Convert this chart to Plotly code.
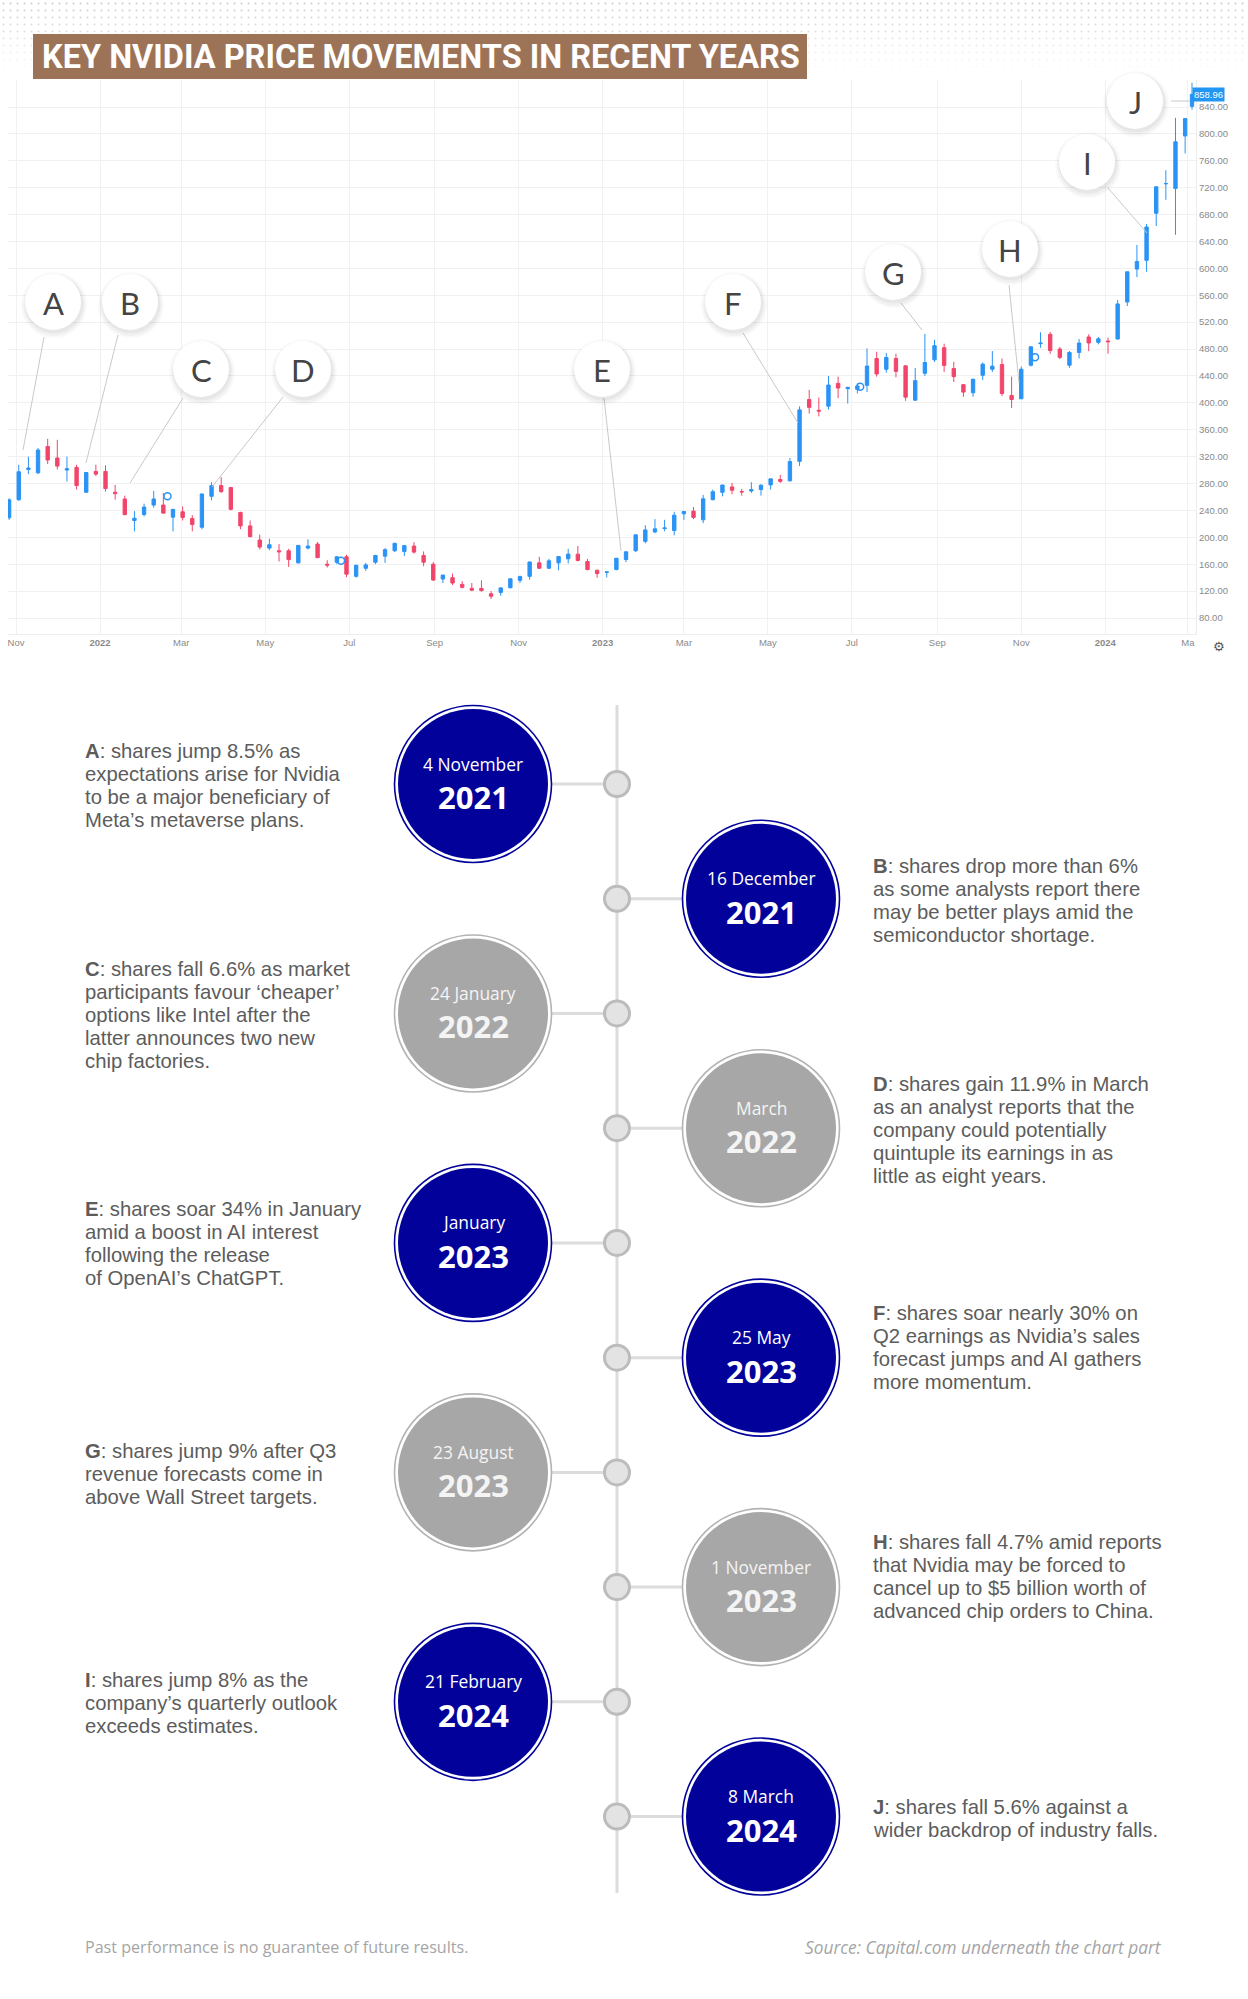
import base64
import pandas as pd
import plotly.graph_objects as go

W, H = 1248, 1999

# ---------------- data: weekly NVDA candles ----------------
open_2021 = [229, 256, 301, 296, 335, 318, 300, 304, 267, 298]
high_2021 = [258, 308, 320, 333, 346.5, 345, 320, 308, 297, 308]
low_2021 = [226, 254, 294, 294, 309, 301, 283, 271, 267, 291]
close_2021 = [255.7, 297.5, 303, 329.85, 315, 306, 302, 277, 296.4, 294]

open_2022 = [298, 267, 257, 225, 234, 248, 248, 230, 238, 228, 215, 261, 277, 274, 237, 217, 196,
             184, 180, 180, 162, 184, 190, 160, 163, 171, 142, 154, 163, 172, 180, 179, 187, 173,
             160, 138, 140, 130, 124, 124, 116, 118, 125, 136, 142, 162, 154, 162, 168, 175, 164, 151]
high_2022 = [307, 278, 262, 239, 250, 269, 266, 242, 246, 233, 265, 282, 289.5, 275, 238, 225, 204,
             198, 190, 183, 188, 197, 193, 166, 172, 174, 159, 162, 174, 184, 192, 188, 192.7, 179,
             163, 144, 146, 135, 132, 136, 120, 126, 139, 143, 164, 171, 168, 172, 183, 187, 168, 152]
low_2022 = [268, 256, 233, 208.9, 231, 244, 235, 208.9, 225, 208.9, 212, 255, 266, 240, 212, 200, 182,
            181, 164, 156, 161, 182, 169, 155, 160, 140.6, 140, 150, 160, 162, 178, 172, 176, 157,
            135, 132, 129, 124, 120, 119, 108.1, 113, 124, 132, 137, 153, 153, 151, 161, 164, 151, 140]
close_2022 = [272.5, 265, 233.7, 228.4, 245, 257, 236, 241.6, 229.5, 219, 264.5, 276.9, 268, 241.6,
              217, 201, 185.5, 189, 178.5, 166.9, 188, 187, 169.8, 158.6, 171, 145.2, 158.4, 159, 173,
              181.6, 191, 187.7, 178, 163, 136.5, 143.9, 132, 125.6, 121.4, 120.8, 112.3, 124.7,
              138.3, 141.6, 163.3, 154, 165, 171.4, 175, 165.7, 152, 146.1]

open_2023 = [148, 152, 167, 180, 194, 208, 213, 210, 235, 239, 226, 256, 267, 275, 268, 269, 271,
             278, 286, 284, 313, 405, 389, 395, 429, 421, 420, 426, 466, 450, 466, 455, 404, 444,
             464, 482, 451, 427, 415, 441, 450, 457, 411, 406, 456, 488, 502, 480, 456, 475, 498, 490]
high_2023 = [149, 169, 179, 204, 218, 227, 226, 238, 239, 245, 263, 271, 278, 281, 272, 282, 279,
             287, 293, 318, 394.8, 419.4, 408, 439.9, 439, 424, 429, 480.9, 476, 474, 473, 456, 452,
             502.7, 494, 488, 461, 428, 436, 460, 477, 466, 439, 454, 484, 505, 505.5, 483, 477, 495,
             502, 498]
low_2023 = [140.3, 151, 163, 178, 191, 206, 209, 203, 226, 227, 221, 255, 261, 264, 262, 266, 262,
            271, 281, 283, 306, 384, 380, 390, 407, 399, 414, 416, 439, 445, 438, 403, 403, 440, 461,
            446, 431, 409, 409, 434, 446, 410, 392.3, 406, 454, 482, 473, 465, 452, 466, 477, 487]
close_2023 = [148.6, 168.9, 178.4, 203.65, 211, 212.6, 213.9, 232.9, 238.5, 229.6, 257.25, 267.8,
              277.8, 270, 267.5, 271, 277.5, 287, 283.4, 312.6, 389.5, 393.3, 387.7, 426.5, 422, 423,
              425, 454.7, 443, 467.5, 446.8, 408.5, 433, 460, 485, 455.7, 439, 416, 435, 457.6, 454.6,
              413.9, 405, 450, 483.35, 488.9, 477.8, 467.7, 475, 488.9, 489, 495.2]

open_2024 = [492, 495, 550, 599, 612, 682, 726, 719, 797, 841]
high_2024 = [497, 553, 595, 634.9, 666, 721.9, 746, 823.9, 823, 876]
low_2024 = [473, 494, 544, 587, 595, 663, 702, 650, 771, 836]
close_2024 = [490.97, 547.1, 594.9, 610.3, 661.6, 721.3, 726.1, 788.2, 822.8, 858.96]

opens = open_2021 + open_2022 + open_2023 + open_2024
highs = high_2021 + high_2022 + high_2023 + high_2024
lows = low_2021 + low_2022 + low_2023 + low_2024
closes = close_2021 + close_2022 + close_2023 + close_2024
week_dates = list(pd.date_range("2021-10-27", "2024-02-28", freq="7D")) + [pd.Timestamp("2024-03-04")]

last_price = 858.96

# small event icons on the price line
icon_dates = ["2022-02-19", "2022-06-25", "2023-07-07", "2023-11-11"]
icon_prices = [261, 165, 424, 468]

tick_dates = ["2021-11-01", "2022-01-01", "2022-03-01", "2022-05-01", "2022-07-01", "2022-09-01",
              "2022-11-01", "2023-01-01", "2023-03-01", "2023-05-01", "2023-07-01", "2023-09-01",
              "2023-11-01", "2024-01-01", "2024-03-01"]
tick_text = ["Nov", "<b>2022</b>", "Mar", "May", "Jul", "Sep", "Nov", "<b>2023</b>", "Mar", "May",
             "Jul", "Sep", "Nov", "<b>2024</b>", "Ma"]
price_ticks = [80, 120, 160, 200, 240, 280, 320, 360, 400, 440, 480, 520, 560, 600, 640, 680, 720,
               760, 800, 840]

letters = ["A", "B", "C", "D", "E", "F", "G", "H", "I", "J"]
event_day = ["4 November", "16 December", "24 January", "March", "January", "25 May", "23 August",
             "1 November", "21 February", "8 March"]
event_year = ["2021", "2021", "2022", "2022", "2023", "2023", "2023", "2023", "2024", "2024"]
event_blue = [True, True, False, False, True, True, False, False, True, True]
event_text = [
    "<b>A</b>: shares jump 8.5% as<br>expectations arise for Nvidia<br>to be a major beneficiary of<br>Meta’s metaverse plans.",
    "<b>B</b>: shares drop more than 6%<br>as some analysts report there<br>may be better plays amid the<br>semiconductor shortage.",
    "<b>C</b>: shares fall 6.6% as market<br>participants favour ‘cheaper’<br>options like Intel after the<br>latter announces two new<br>chip factories.",
    "<b>D</b>: shares gain 11.9% in March<br>as an analyst reports that the<br>company could potentially<br>quintuple its earnings in as<br>little as eight years.",
    "<b>E</b>: shares soar 34% in January<br>amid a boost in AI interest<br>following the release<br>of OpenAI’s ChatGPT.",
    "<b>F</b>: shares soar nearly 30% on<br>Q2 earnings as Nvidia’s sales<br>forecast jumps and AI gathers<br>more momentum.",
    "<b>G</b>: shares jump 9% after Q3<br>revenue forecasts come in<br>above Wall Street targets.",
    "<b>H</b>: shares fall 4.7% amid reports<br>that Nvidia may be forced to<br>cancel up to $5 billion worth of<br>advanced chip orders to China.",
    "<b>I</b>: shares jump 8% as the<br>company’s quarterly outlook<br>exceeds estimates.",
    "<b>J</b>: shares fall 5.6% against a<br>wider backdrop of industry falls.",
]

# ---------------- layout positions (pixels) ----------------
bubble_xy = [(53, 302), (130, 302), (201, 369), (303, 369), (602, 369), (733, 302), (893, 272),
             (1010, 249), (1087, 162), (1135, 101)]
pointer_lines = [((44, 337), (23, 450)), ((118, 335), (86, 463)), ((183, 398), (130, 483)),
                 ((283, 397), (212, 487)), ((604, 398), (621, 551)), ((743, 333), (798, 423)),
                 ((901, 303), (922, 330)), ((1009, 285), (1019, 383)), ((1108, 188), (1147, 233)),
                 ((1171, 101), (1190, 101))]
node_x = 617
node_y0, node_step = 784.0, 114.73
text_center_y = [785, 900, 1015, 1130, 1243, 1347, 1474, 1576, 1703, 1818]
line_gap = 23

UP = "#2a93f5"
DOWN = "#f2456b"
NAVY = "#02029a"
GREY = "#a7a7a7"
BODY_FONT = "Liberation Sans"
CIRCLE_FONT = "Open Sans"

fig = go.Figure()
fig.add_trace(go.Candlestick(
    x=week_dates, open=opens, high=highs, low=lows, close=closes,
    increasing=dict(line=dict(color=UP, width=1), fillcolor=UP),
    decreasing=dict(line=dict(color=DOWN, width=1), fillcolor=DOWN),
    whiskerwidth=0, showlegend=False, hoverinfo="skip", xaxis="x", yaxis="y"))
fig.add_trace(go.Scatter(
    x=icon_dates, y=icon_prices, mode="markers", showlegend=False, hoverinfo="skip",
    marker=dict(symbol="circle-open", size=7, color=UP, line=dict(width=1.5, color=UP))))
# invisible trace so the pixel overlay axes exist
fig.add_trace(go.Scatter(x=[0], y=[0], xaxis="x2", yaxis="y2", mode="markers",
                         marker=dict(opacity=0), hoverinfo="skip", showlegend=False))

shapes = []
annotations = []


def circ(cx, cy, r, fill, line_color=None, line_width=0):
    return dict(type="circle", xref="x2", yref="y2", x0=cx - r, x1=cx + r, y0=cy - r, y1=cy + r,
                fillcolor=fill, line=dict(color=line_color or "rgba(0,0,0,0)", width=line_width),
                layer="above")


def seg(x0, y0, x1, y1, color, width):
    return dict(type="line", xref="x2", yref="y2", x0=x0, y0=y0, x1=x1, y1=y1,
                line=dict(color=color, width=width), layer="above")


# title box
shapes.append(dict(type="rect", xref="x2", yref="y2", x0=33, x1=807, y0=34, y1=79,
                   fillcolor="#9d7357", line=dict(width=0), layer="above"))
annotations.append(dict(xref="x2", yref="y2", x=421, y=57, showarrow=False,
                        text="<b>KEY NVIDIA PRICE MOVEMENTS IN RECENT YEARS</b>",
                        font=dict(family="Roboto", size=32.5, color="white")))

# pointer lines and bubbles on the chart
for (p0, p1) in pointer_lines:
    shapes.append(seg(p0[0], p0[1], p1[0], p1[1], "#c9c9c9", 1))
for letter, (bx, by) in zip(letters, bubble_xy):
    shapes.append(circ(bx + 1, by + 3, 33, "rgba(0,0,0,0.025)"))
    shapes.append(circ(bx + 1, by + 3, 31, "rgba(0,0,0,0.03)"))
    shapes.append(circ(bx + 1, by + 2, 29.5, "rgba(0,0,0,0.04)"))
    shapes.append(circ(bx, by, 28, "white"))
    annotations.append(dict(xref="x2", yref="y2", x=bx, y=by + 1, showarrow=False, text=letter,
                            font=dict(family="Lato", size=31, color="#444444")))

# last price tag and gear icon
annotations.append(dict(xref="paper", yref="y", x=1192 / W, y=last_price, xanchor="left",
                        yanchor="middle", showarrow=False, text=f"{last_price:.2f}",
                        bgcolor="#2196f3", borderpad=1,
                        font=dict(family="Liberation Sans", size=9.5, color="white")))
annotations.append(dict(xref="x2", yref="y2", x=1219, y=646, showarrow=False, text="⚙",
                        font=dict(family="DejaVu Sans", size=13, color="#555555")))

# timeline
node_ys = [node_y0 + node_step * i for i in range(len(letters))]
shapes.append(seg(node_x, 705, node_x, 1893, "#dcdcdc", 3))
for i, ny in enumerate(node_ys):
    cx = 473 if i % 2 == 0 else 761
    col = NAVY if event_blue[i] else GREY
    ring = NAVY if event_blue[i] else "#b3b3b3"
    if i % 2 == 0:
        shapes.append(seg(cx + 78, ny, node_x, ny, "#dcdcdc", 3))
    else:
        shapes.append(seg(node_x, ny, cx - 78, ny, "#dcdcdc", 3))
    shapes.append(circ(node_x, ny, 12.5, "#e3e3e3", "#bcbcbc", 3))
    shapes.append(circ(cx, ny, 78.5, "white", ring, 1.6))
    shapes.append(circ(cx, ny, 75, col))
    tcol = "white" if event_blue[i] else "#f4f4f4"
    annotations.append(dict(xref="x2", yref="y2", x=cx, y=ny - 20.5, showarrow=False,
                            text=event_day[i],
                            font=dict(family=CIRCLE_FONT, size=17.4, color=tcol)))
    annotations.append(dict(xref="x2", yref="y2", x=cx, y=ny + 13, showarrow=False,
                            text=f"<b>{event_year[i]}</b>",
                            font=dict(family=CIRCLE_FONT, size=31, color=tcol)))
    tx = 83 if i % 2 == 0 else 871
    lines = event_text[i].split("<br>")
    n = len(lines)
    for k, line in enumerate(lines):
        annotations.append(dict(xref="x2", yref="y2", x=tx,
                                y=text_center_y[i] + (k - (n - 1) / 2) * line_gap,
                                xanchor="left", yanchor="middle", align="left", showarrow=False,
                                text=line, font=dict(family=BODY_FONT, size=20.3, color="#5c5c5c")))

# footer
annotations.append(dict(xref="x2", yref="y2", x=83, y=1947, xanchor="left", showarrow=False,
                        text="Past performance is no guarantee of future results.",
                        font=dict(family="Open Sans", size=16.1, color="#a5a5a5")))
annotations.append(dict(xref="x2", yref="y2", x=1164, y=1947, xanchor="right", showarrow=False,
                        text="<i>Source: Capital.com underneath the chart part</i>",
                        font=dict(family="Open Sans", size=17.3, color="#a5a5a5")))

# dotted header background
svg = (
    '<svg xmlns="http://www.w3.org/2000/svg" width="1248" height="75">'
    '<defs><pattern id="p" width="7" height="7" patternUnits="userSpaceOnUse">'
    '<circle cx="3.5" cy="3.5" r="1" fill="#c9c9c9"/></pattern>'
    '<linearGradient id="g" x1="0" y1="0" x2="0" y2="1">'
    '<stop offset="0" stop-color="#fff" stop-opacity="1"/>'
    '<stop offset="1" stop-color="#fff" stop-opacity="0"/></linearGradient>'
    '<mask id="m"><rect width="1248" height="75" fill="url(#g)"/></mask></defs>'
    '<rect width="1248" height="75" fill="url(#p)" mask="url(#m)"/></svg>'
)
svg_uri = "data:image/svg+xml;base64," + base64.b64encode(svg.encode()).decode()

axis_font = dict(family="Liberation Sans", size=9.5, color="#8a8a8a")
fig.update_layout(
    width=W, height=H, margin=dict(l=0, r=0, t=0, b=0),
    paper_bgcolor="white", plot_bgcolor="rgba(0,0,0,0)", showlegend=False,
    xaxis=dict(domain=[8 / W, 1196 / W], type="date",
               range=["2021-10-26 04:30", "2024-03-06 21:30"],
               tickmode="array", tickvals=tick_dates, ticktext=tick_text,
               showgrid=True, gridcolor="#f1f1f1", gridwidth=1, zeroline=False,
               showline=True, linecolor="#ececec", ticks="", tickfont=axis_font,
               rangeslider=dict(visible=False), fixedrange=True, anchor="y"),
    yaxis=dict(domain=[1 - 634 / H, 1 - 80 / H], range=[56.2, 880.2], side="right",
               tickmode="array", tickvals=price_ticks, tickformat=".2f",
               showgrid=True, gridcolor="#f1f1f1", zeroline=False, showline=True,
               linecolor="#ececec", ticks="", tickfont=axis_font, fixedrange=True, anchor="x"),
    xaxis2=dict(domain=[0, 1], range=[0, W], visible=False, anchor="y2", fixedrange=True),
    yaxis2=dict(domain=[0, 1], range=[H, 0], visible=False, anchor="x2", fixedrange=True),
    shapes=shapes, annotations=annotations,
    images=[dict(source=svg_uri, xref="paper", yref="paper", x=0, y=1, sizex=1, sizey=75 / H,
                 xanchor="left", yanchor="top", sizing="stretch", layer="below")],
)

fig.write_html("out.html", config={"displayModeBar": False},
               post_script="document.body.style.margin='0';")
